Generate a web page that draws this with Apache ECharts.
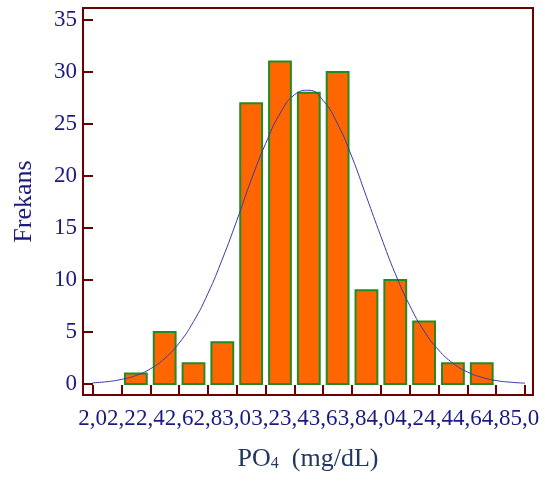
<!DOCTYPE html>
<html>
<head>
<meta charset="utf-8">
<script src="https://cdn.jsdelivr.net/npm/echarts@6/dist/echarts.min.js"></script>
<style>
html,body{margin:0;padding:0;background:#fff;}
#chart{width:545px;height:482px;}
</style>
</head>
<body>
<div id="chart"></div>
<script>
// Histogram bins (PO4, mg/dL) and frequencies
var binStarts = [2.2, 2.4, 2.6, 2.8, 3.0, 3.2, 3.4, 3.6, 3.8, 4.0, 4.2, 4.4, 4.6];
var binEnds   = [2.4, 2.6, 2.8, 3.0, 3.2, 3.4, 3.6, 3.8, 4.0, 4.2, 4.4, 4.6, 4.8];
var counts    = [1, 5, 2, 4, 27, 31, 28, 30, 9, 10, 6, 2, 2];

// Fitted normal curve
var curveX = [2.0, 2.1, 2.2, 2.3, 2.4, 2.5, 2.6, 2.7, 2.8, 2.9, 3.0, 3.1, 3.2, 3.3, 3.4, 3.5,
              3.6, 3.7, 3.8, 3.9, 4.0, 4.1, 4.2, 4.3, 4.4, 4.5, 4.6, 4.7, 4.8, 4.9, 5.0];
var curveY = [0.11, 0.22, 0.44, 0.81, 1.45, 2.45, 3.93, 6.0, 8.7, 12.0, 15.7, 19.6, 23.1, 26.0, 27.8, 28.24,
              27.25, 25.0, 21.8, 18.0, 14.2, 10.6, 7.55, 5.09, 3.27, 2.0, 1.16, 0.64, 0.33, 0.17, 0.08];

// Tick labels
var xTicks = [2.0, 2.2, 2.4, 2.6, 2.8, 3.0, 3.2, 3.4, 3.6, 3.8, 4.0, 4.2, 4.4, 4.6, 4.8, 5.0];
var yTicks = [0, 5, 10, 15, 20, 25, 30, 35];

var FRAME = '#6b0000';
var NAVY = '#1a1a80';
var SERIF = '"Liberation Serif", "Times New Roman", serif';

var barData = binStarts.map(function (s, i) { return [s, binEnds[i], counts[i]]; });
var curveData = curveX.map(function (x, i) { return [x, curveY[i]]; });

var chart = echarts.init(document.getElementById('chart'), null, {renderer: 'canvas'});
chart.setOption({
  animation: false,
  backgroundColor: '#ffffff',
  grid: {
    left: 83, right: 12, top: 8, bottom: 87,
    show: true, borderColor: FRAME, borderWidth: 2, backgroundColor: 'transparent'
  },
  xAxis: {
    type: 'value',
    min: 1.9333, max: 5.0556,
    name: '{a|PO}{s|4}{a|  (mg/dL)}',
    nameLocation: 'middle',
    nameGap: 51,
    nameTextStyle: {
      rich: {
        a: {fontFamily: SERIF, fontSize: 26, color: '#22365e'},
        s: {fontFamily: SERIF, fontSize: 16, color: '#22365e', padding: [10, 0, 0, 0]}
      }
    },
    axisLine: {show: true, onZero: false, lineStyle: {color: FRAME, width: 2}},
    axisTick: {show: true, inside: true, length: 10, lineStyle: {color: FRAME, width: 2}, customValues: xTicks},
    axisLabel: {
      fontFamily: SERIF, fontSize: 23, color: NAVY, margin: 12,
      customValues: xTicks,
      formatter: function (v) { return v.toFixed(1).replace('.', ','); }
    },
    splitLine: {show: false}
  },
  yAxis: {
    type: 'value',
    min: -1.06, max: 36.15,
    name: 'Frekans',
    nameLocation: 'middle',
    nameGap: 46,
    nameRotate: 90,
    nameTextStyle: {fontFamily: SERIF, fontSize: 26, color: NAVY},
    axisLine: {show: true, onZero: false, lineStyle: {color: FRAME, width: 2}},
    axisTick: {show: true, inside: true, length: 10, lineStyle: {color: FRAME, width: 2}, customValues: yTicks},
    axisLabel: {fontFamily: SERIF, fontSize: 23, color: NAVY, margin: 6, customValues: yTicks},
    splitLine: {show: false}
  },
  series: [
    {
      type: 'custom',
      data: barData,
      encode: {x: [0, 1], y: 2},
      renderItem: function (params, api) {
        var p0 = api.coord([api.value(0), api.value(2)]);
        var p1 = api.coord([api.value(1), 0]);
        var gap = 3.5;
        return {
          type: 'rect',
          shape: {x: p0[0] + gap, y: p0[1], width: p1[0] - p0[0] - 2 * gap, height: p1[1] - p0[1]},
          style: {fill: '#ff6600', stroke: '#228b22', lineWidth: 2}
        };
      },
      z: 2
    },
    {
      type: 'line',
      data: curveData,
      smooth: true,
      showSymbol: false,
      symbol: 'none',
      lineStyle: {color: '#3a3aa6', width: 1},
      z: 3
    }
  ]
});
</script>
</body>
</html>
